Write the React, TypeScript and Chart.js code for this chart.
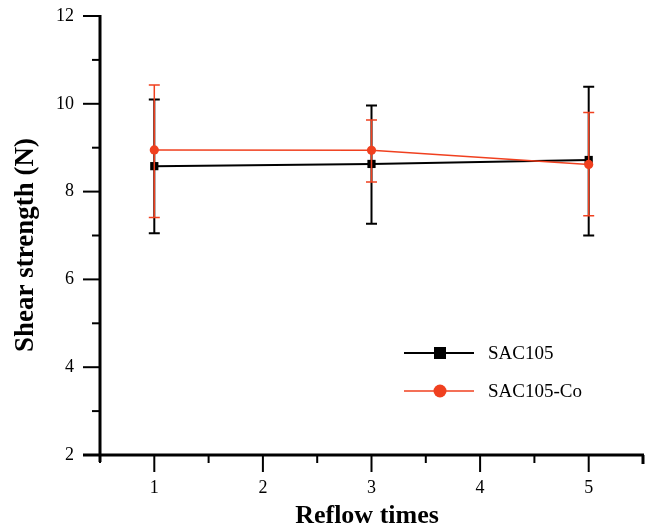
import React, { useEffect, useRef } from "react";
import { Chart, registerables } from "chart.js";

Chart.register(...registerables);

const reflowTimes = [1, 3, 5];
const sac105 = [8.58, 8.63, 8.72];
const sac105Upper = [10.1, 9.96, 10.39];
const sac105Lower = [7.05, 7.27, 7.0];
const sac105Co = [8.95, 8.94, 8.62];
const sac105CoUpper = [10.43, 9.63, 9.8];
const sac105CoLower = [7.41, 8.22, 7.45];

const seriesNames = ["SAC105", "SAC105-Co"];
const xTitle = "Reflow times";
const yTitle = "Shear strength (N)";

const BLACK = "#000000";
const RED = "#f0401f";
const SERIF = "'Liberation Serif', 'Times New Roman', serif";

const errors = [
  { upper: sac105Upper, lower: sac105Lower, color: BLACK, width: 2 },
  { upper: sac105CoUpper, lower: sac105CoLower, color: RED, width: 1.5 },
];

const customPlugin = {
  id: "custom",
  afterDatasetDraw(chart: any, args: any) {
    const ctx = chart.ctx;
    const xs = chart.scales.x;
    const ys = chart.scales.y;
    const e = errors[args.index];
    if (!e) return;
    ctx.save();
    ctx.strokeStyle = e.color;
    ctx.lineWidth = e.width;
    const cap = 5.5;
    reflowTimes.forEach((xv, i) => {
      const px = xs.getPixelForValue(xv);
      const pu = ys.getPixelForValue(e.upper[i]);
      const pl = ys.getPixelForValue(e.lower[i]);
      ctx.beginPath();
      ctx.moveTo(px, pu);
      ctx.lineTo(px, pl);
      ctx.moveTo(px - cap, pu);
      ctx.lineTo(px + cap, pu);
      ctx.moveTo(px - cap, pl);
      ctx.lineTo(px + cap, pl);
      ctx.stroke();
    });
    ctx.restore();
  },
  afterDraw(chart: any) {
    const ctx = chart.ctx;
    const xs = chart.scales.x;
    const ys = chart.scales.y;
    const { left, right, top, bottom } = chart.chartArea;
    ctx.save();
    ctx.strokeStyle = BLACK;
    ctx.lineCap = "butt";
    // ticks
    ctx.lineWidth = 2;
    for (let v = ys.min; v <= ys.max + 1e-9; v += 1) {
      const py = ys.getPixelForValue(v);
      const len = Math.round(v) % 2 === 0 ? 17 : 8;
      ctx.beginPath();
      ctx.moveTo(left - len, py);
      ctx.lineTo(left, py);
      ctx.stroke();
    }
    for (let v = xs.min; v <= xs.max + 1e-9; v += 0.5) {
      const px = xs.getPixelForValue(v);
      const isMajor = Math.abs(v - Math.round(v)) < 1e-6;
      const len = isMajor ? 17 : 8;
      ctx.beginPath();
      ctx.moveTo(px, bottom);
      ctx.lineTo(px, bottom + len);
      ctx.stroke();
    }
    // axis lines
    ctx.lineWidth = 3;
    ctx.beginPath();
    ctx.moveTo(left, top - 1);
    ctx.lineTo(left, bottom + 7);
    ctx.moveTo(left - 17, bottom);
    ctx.lineTo(right + 1, bottom);
    ctx.stroke();
    ctx.beginPath();
    ctx.moveTo(right, bottom);
    ctx.lineTo(right, bottom + 9);
    ctx.stroke();

    // axis titles
    ctx.fillStyle = BLACK;
    ctx.font = `bold 26px ${SERIF}`;
    ctx.textAlign = "center";
    ctx.textBaseline = "alphabetic";
    ctx.fillText(xTitle, 367, 523);
    ctx.save();
    ctx.font = `bold 27px ${SERIF}`;
    ctx.translate(33, 245);
    ctx.rotate(-Math.PI / 2);
    ctx.fillText(yTitle, 0, 0);
    ctx.restore();

    // legend
    const rows = [
      { y: 353, color: BLACK, lw: 2, marker: "rect" },
      { y: 391, color: RED, lw: 1.5, marker: "circle" },
    ];
    rows.forEach((r, i) => {
      ctx.strokeStyle = r.color;
      ctx.fillStyle = r.color;
      ctx.lineWidth = r.lw;
      ctx.beginPath();
      ctx.moveTo(404, r.y);
      ctx.lineTo(474, r.y);
      ctx.stroke();
      if (r.marker === "rect") {
        ctx.fillRect(434, r.y - 6, 12, 12);
      } else {
        ctx.beginPath();
        ctx.arc(440, r.y, 6.5, 0, Math.PI * 2);
        ctx.fill();
      }
      ctx.fillStyle = BLACK;
      ctx.font = `19px ${SERIF}`;
      ctx.textAlign = "left";
      ctx.textBaseline = "middle";
      ctx.fillText(seriesNames[i], 488, r.y + 1);
    });
    ctx.restore();
  },
};

export default function App() {
  const ref = useRef<HTMLCanvasElement | null>(null);
  useEffect(() => {
    if (!ref.current) return;
    const chart = new Chart(ref.current, {
      type: "line",
      data: {
        datasets: [
          {
            label: seriesNames[0],
            data: reflowTimes.map((x, i) => ({ x, y: sac105[i] })),
            borderColor: BLACK,
            backgroundColor: BLACK,
            borderWidth: 2,
            pointStyle: "rect",
            pointRadius: 5.8,
            pointBorderWidth: 0,
            order: 2,
            tension: 0,
          },
          {
            label: seriesNames[1],
            data: reflowTimes.map((x, i) => ({ x, y: sac105Co[i] })),
            borderColor: RED,
            backgroundColor: RED,
            borderWidth: 1.5,
            pointStyle: "circle",
            pointRadius: 4.6,
            pointBorderWidth: 0,
            order: 1,
            tension: 0,
          },
        ],
      },
      options: {
        responsive: false,
        animation: false,
        layout: { padding: { top: 16, right: 6, left: 0, bottom: 0 } },
        plugins: { legend: { display: false }, tooltip: { enabled: false } },
        scales: {
          x: {
            type: "linear",
            min: 0.5,
            max: 5.5,
            afterFit: (s: any) => {
              s.height = 71;
              s.paddingLeft = 0;
              s.paddingRight = 0;
            },
            ticks: {
              stepSize: 0.5,
              autoSkip: false,
              maxRotation: 0,
              padding: 22,
              color: BLACK,
              font: { family: SERIF, size: 18 },
              callback: (v: any) =>
                Math.abs(Number(v) - Math.round(Number(v))) < 1e-6 ? String(Math.round(Number(v))) : "",
            },
            grid: { display: true, drawOnChartArea: false, drawTicks: false },
            border: { display: false },
          },
          y: {
            type: "linear",
            min: 2,
            max: 12,
            afterFit: (s: any) => {
              s.width = 100;
              s.paddingTop = 0;
              s.paddingBottom = 0;
            },
            ticks: {
              stepSize: 1,
              autoSkip: false,
              padding: 26,
              color: BLACK,
              font: { family: SERIF, size: 18 },
              callback: (v: any) => (Math.round(Number(v)) % 2 === 0 ? String(Math.round(Number(v))) : ""),
            },
            grid: { display: true, drawOnChartArea: false, drawTicks: false },
            border: { display: false },
          },
        },
      },
      plugins: [customPlugin],
    });
    return () => chart.destroy();
  }, []);
  return (
    <div style={{ position: "absolute", left: 0, top: 0, width: 649, height: 526, background: "#fff" }}>
      <canvas ref={ref} width={649} height={526} style={{ width: 649, height: 526 }} />
    </div>
  );
}
